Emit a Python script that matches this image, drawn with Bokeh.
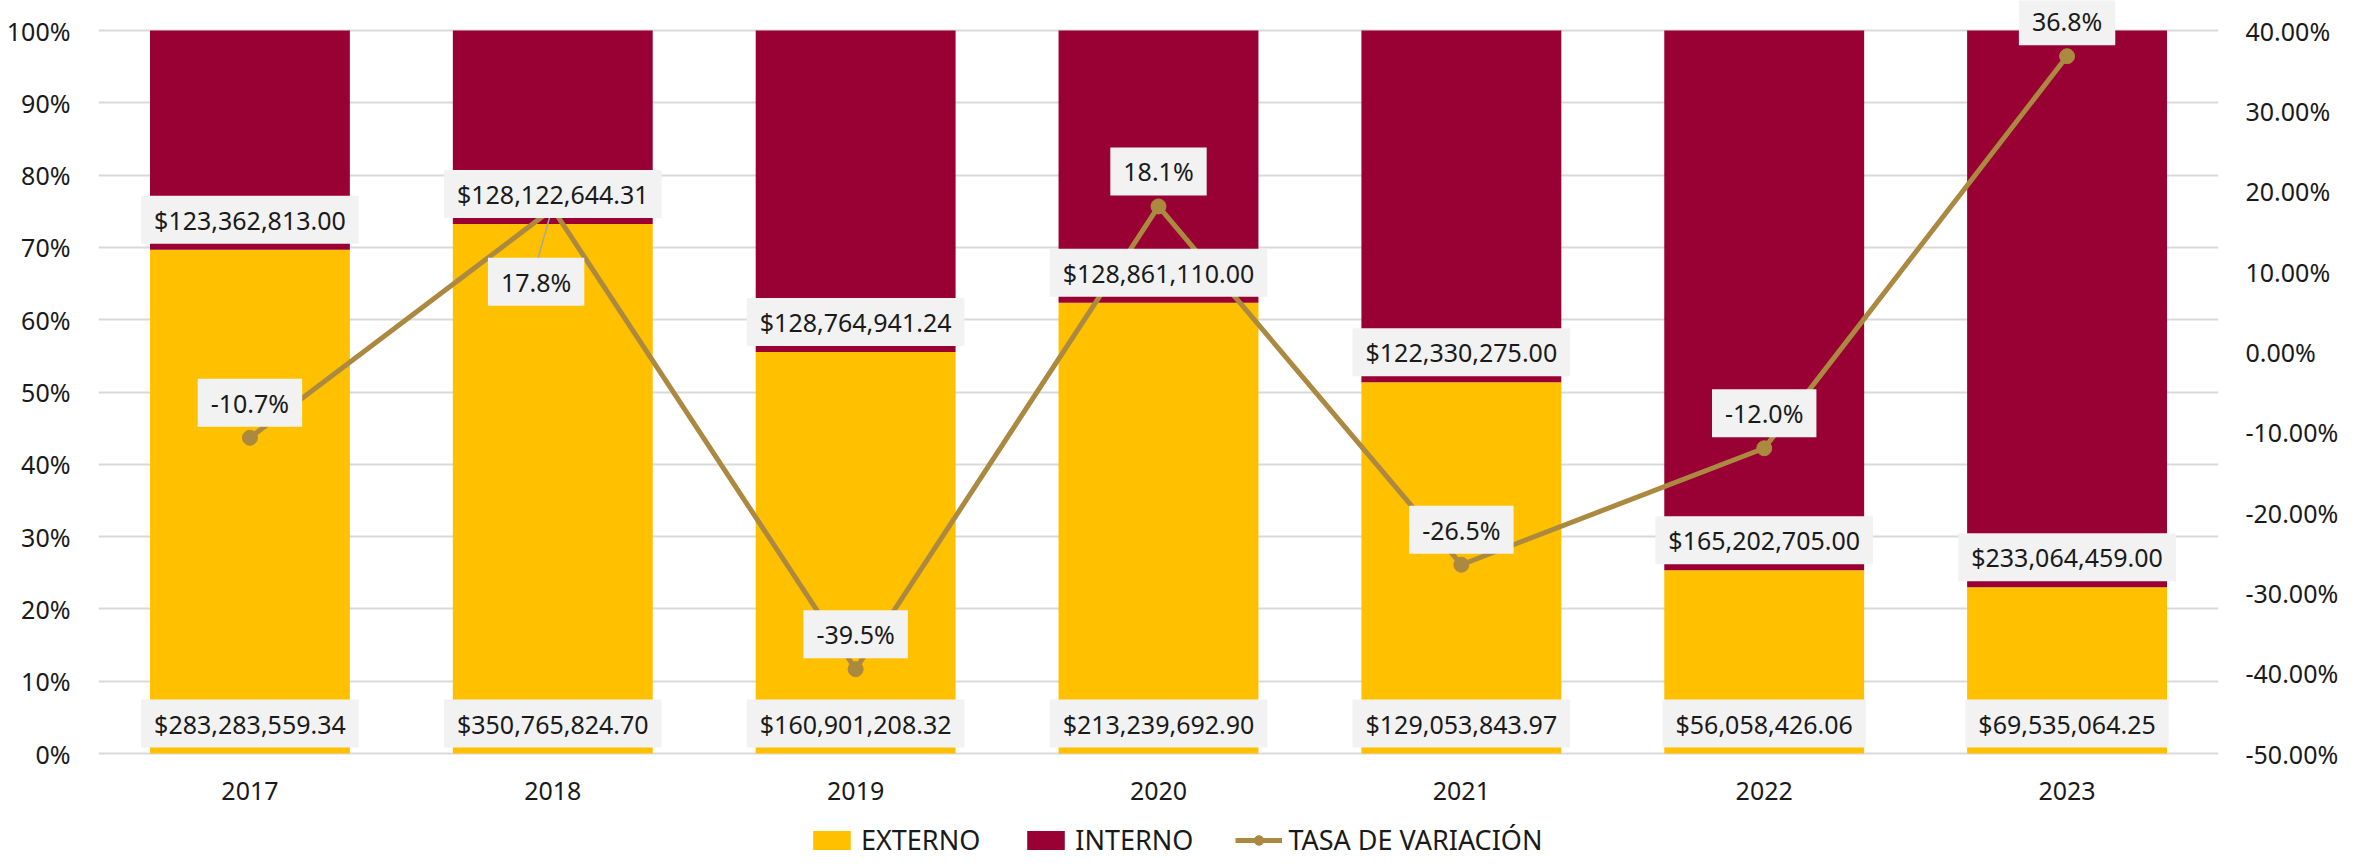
from bokeh.plotting import figure
from bokeh.models import (Range1d, FactorRange, LinearAxis, NumeralTickFormatter,
                          Label, Legend, LegendItem, ColumnDataSource)
from bokeh.core.properties import value
from bokeh.embed import file_html
from bokeh.resources import INLINE

years = ["2017", "2018", "2019", "2020", "2021", "2022", "2023"]
externo = [283283559.34, 350765824.70, 160901208.32, 213239692.90, 129053843.97, 56058426.06, 69535064.25]
interno = [123362813.00, 128122644.31, 128764941.24, 128861110.00, 122330275.00, 165202705.00, 233064459.00]
tasa = [-0.107, 0.178, -0.395, 0.181, -0.265, -0.120, 0.368]

C_EXT = "#FFC000"
C_INT = "#990033"
C_LINE = "#AC8940"
FONT = "Noto Sans"
TXT = "#1a1a1a"

tot = [e + i for e, i in zip(externo, interno)]
src = ColumnDataSource(dict(
    years=years,
    ext=[e / t for e, t in zip(externo, tot)],
    inte=[i / t for i, t in zip(interno, tot)],
    tasa=tasa,
))

# layout geometry (pixels)
FL, FR, FW = 98, 131, 2120
TOP_PAD, PLOT_H, BOT_PAD = 30, 723, 105   # space above 100%, 0..100% height, space below 0%
FH = TOP_PAD + PLOT_H + BOT_PAD
ppu = PLOT_H / 1.0
rppu = PLOT_H / 0.9

p = figure(x_range=FactorRange(*years, range_padding=0),
           y_range=Range1d(-BOT_PAD / ppu, 1 + TOP_PAD / ppu),
           frame_width=FW, frame_height=FH, output_backend="svg", toolbar_location=None,
           x_axis_location=None,
           min_border_left=FL, min_border_right=FR, min_border_top=0,
           min_border_bottom=0, outline_line_color=None)
p.extra_y_ranges = {"rate": Range1d(-0.5 - BOT_PAD / rppu, 0.4 + TOP_PAD / rppu)}

bars = p.vbar_stack(["ext", "inte"], x="years", width=0.66, source=src,
                    color=[C_EXT, C_INT], line_color=None)
ln = p.line("years", "tasa", source=src, y_range_name="rate", color=C_LINE, line_width=5)
sc = p.scatter("years", "tasa", source=src, y_range_name="rate", color=C_LINE, size=15)

# axes
left_ticks = [i / 10 for i in range(11)]
p.yaxis.formatter = NumeralTickFormatter(format="0%")
p.yaxis.ticker = left_ticks
ra = LinearAxis(y_range_name="rate", formatter=NumeralTickFormatter(format="0.00%"),
                ticker=[i / 100 for i in range(-50, 41, 10)])
p.add_layout(ra, "right")
for ax in [p.yaxis[0], ra]:
    ax.axis_line_color = None
    ax.major_tick_line_color = None
    ax.minor_tick_line_color = None
    ax.major_tick_out = 0
    ax.major_tick_in = 0
    ax.major_label_text_font = FONT
    ax.major_label_text_font_size = "25px"
    ax.major_label_text_color = TXT
p.yaxis[0].major_label_standoff = 28
ra.major_label_standoff = 27
p.xgrid.grid_line_color = None
p.ygrid.ticker = left_ticks
p.ygrid.grid_line_color = "#D9D9D9"
p.ygrid.grid_line_width = 2

# category labels under the bars
p.text(x=years, y=[-37 / ppu] * len(years), text=years, text_align="center",
       text_baseline="middle", text_font=value(FONT), text_font_size="25px",
       text_color=TXT)

def box_label(x, y, text, yoff, rng="default"):
    p.add_layout(Label(x=x, y=y, y_range_name=rng, text=text, y_offset=yoff,
                       text_align="center", text_baseline="middle",
                       text_font=FONT, text_font_size="25px", text_color=TXT,
                       background_fill_color="#F2F2F2",
                       padding=dict(left=13, right=13, top=7, bottom=7)))

for k, y in enumerate(years):
    xc = k + 0.5
    box_label(xc, 0, "${:,.2f}".format(externo[k]), 30)
    box_label(xc, src.data["ext"][k], "${:,.2f}".format(interno[k]), 30)

# line labels (2018 placed below with leader line)
below = {"2018": 73}
for k, y in enumerate(years):
    xc = k + 0.5
    txt = "{:.1f}%".format(tasa[k] * 100)
    if y in below:
        off = below[y]
        p.segment(x0=[xc - 0.01], y0=[tasa[k] - 8 / rppu], x1=[xc - 0.05],
                  y1=[tasa[k] - (off - 22) / rppu], y_range_name="rate",
                  line_color="#A6A6A6", line_width=1.5)
        box_label(xc - 0.055, tasa[k], txt, -off, "rate")
    else:
        box_label(xc, tasa[k], txt, 35, "rate")

legend = Legend(items=[LegendItem(label="EXTERNO", renderers=[bars[0]]),
                       LegendItem(label="INTERNO", renderers=[bars[1]]),
                       LegendItem(label="TASA DE VARIACIÓN", renderers=[ln, sc])],
                orientation="horizontal", location=(710, 0),
                label_text_font=FONT, label_text_font_size="27px",
                label_text_color=TXT,
                glyph_width=47, glyph_height=24, spacing=42, label_standoff=6,
                border_line_color=None, background_fill_alpha=0, margin=0, padding=0)
p.add_layout(legend)

open("out.html", "w").write(file_html(p, INLINE))
